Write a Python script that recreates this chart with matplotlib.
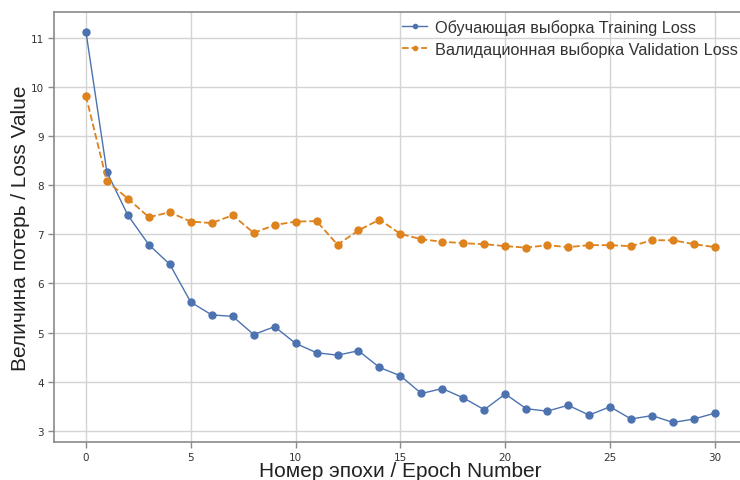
import matplotlib
matplotlib.use("Agg")
import matplotlib.pyplot as plt

epochs = list(range(31))
train_loss = [11.13, 8.27, 7.39, 6.79, 6.39, 5.62, 5.36, 5.33, 4.96, 5.12,
              4.78, 4.59, 4.54, 4.63, 4.29, 4.12, 3.76, 3.86, 3.67, 3.43,
              3.75, 3.45, 3.40, 3.52, 3.32, 3.49, 3.24, 3.31, 3.17, 3.24, 3.36]
val_loss = [9.82, 8.08, 7.73, 7.35, 7.45, 7.26, 7.23, 7.39, 7.03, 7.19,
            7.26, 7.27, 6.79, 7.08, 7.30, 7.01, 6.90, 6.85, 6.82, 6.80,
            6.76, 6.73, 6.78, 6.74, 6.78, 6.78, 6.76, 6.88, 6.88, 6.80, 6.74]
xticks = [0, 5, 10, 15, 20, 25, 30]
yticks = [3, 4, 5, 6, 7, 8, 9, 10, 11]

fig = plt.figure(figsize=(7.4, 4.81), dpi=100)
ax = fig.add_axes([0.0736, 0.079, 0.935, 0.894])

ax.plot(epochs, train_loss, color="#4C72B0", marker="o", markersize=5,
        linewidth=1.0, label="Обучающая выборка Training Loss")
ax.plot(epochs, val_loss, color="#DD821C", marker="o", markersize=5,
        linewidth=1.3, linestyle="--", label="Валидационная выборка Validation Loss")

ax.set_xticks(xticks)
ax.set_yticks(yticks)
ax.grid(True, color="#d4d4d4", linewidth=1.0)
ax.set_axisbelow(True)
for s in ax.spines.values():
    s.set_color("#8a8a8a")
    s.set_linewidth(1.2)
ax.tick_params(axis="both", labelsize=7.5, colors="#8a8a8a", labelcolor="#333333",
               length=4, width=1)

ax.set_xlabel("Номер эпохи / Epoch Number", fontsize=15, family="Liberation Sans",
              color="#222222", labelpad=-1)
ax.set_ylabel("Величина потерь / Loss Value", fontsize=15, family="Liberation Sans",
              color="#222222", labelpad=0.5)

leg = ax.legend(loc="upper right", frameon=False,
                prop={"family": "Liberation Sans", "size": 11.7},
                bbox_to_anchor=(0.997, 0.998), handlelength=1.5, handletextpad=0.5,
                markerscale=0.6, borderaxespad=0.0, labelspacing=0.35)
for t in leg.get_texts():
    t.set_color("#333333")

fig.savefig("out.png", dpi=100)
